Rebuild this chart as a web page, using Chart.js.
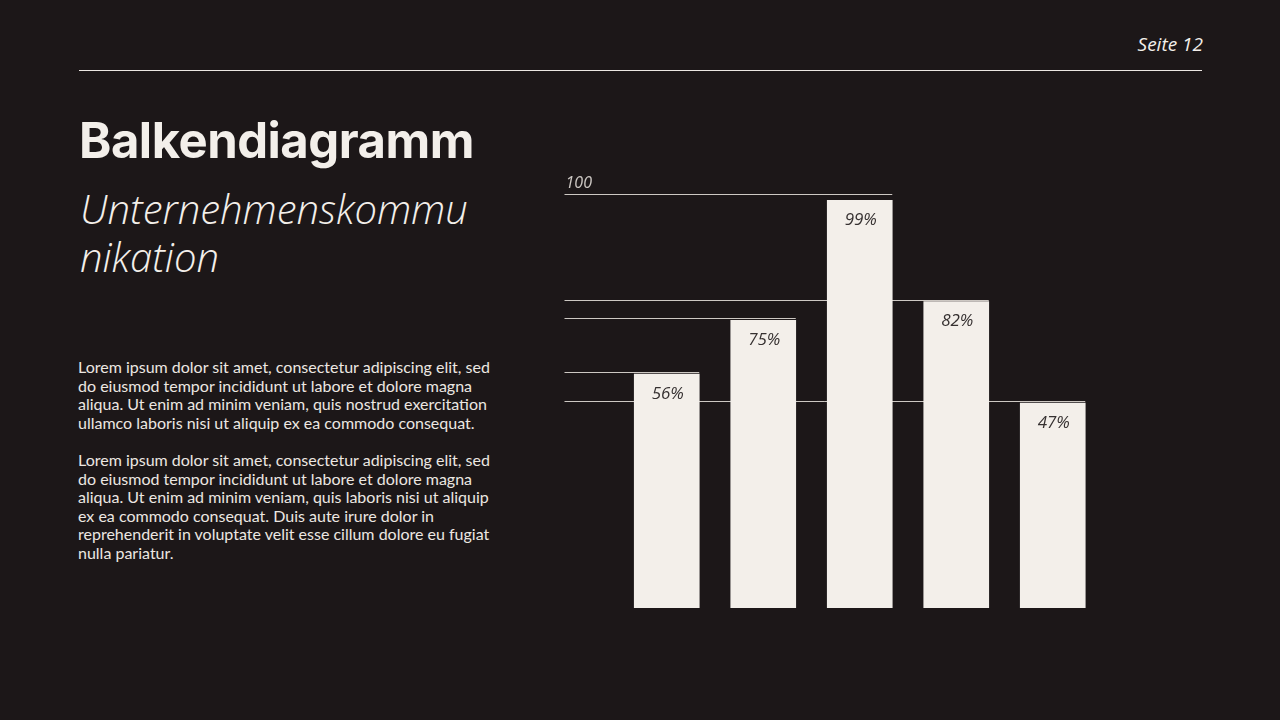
<!DOCTYPE html>
<html lang="de">
<head>
<meta charset="utf-8">
<script src="https://cdn.jsdelivr.net/npm/chart.js@4"></script>
<style>
  html, body { margin: 0; padding: 0; }
  body { width: 1280px; height: 720px; background: #1c1718; position: relative; overflow: hidden; color: #f3efea; }
  .seite { position: absolute; right: 77px; top: 31px; font: italic 400 19px "Open Sans", sans-serif; color: #f3efea; }
  .linie { position: absolute; left: 79px; top: 70px; width: 1123px; height: 0; border-top: 1.5px solid #ece7e2; }
  h1 { position: absolute; left: 79px; top: 111px; margin: 0; font: 700 49px Inter, sans-serif; letter-spacing: -0.5px; color: #f3efea; }
  h2 { position: absolute; left: 80px; top: 185px; margin: 0; font: italic 300 40px "Open Sans", sans-serif; line-height: 48px; color: #f3efea; }
  .text { position: absolute; left: 78px; top: 358px; width: 440px; font: 400 16px Lato, sans-serif; line-height: 18.6px; color: #ece7e2; }
  .text p { margin: 0 0 18.6px 0; white-space: nowrap; }
  #wrap { position: absolute; left: 540px; top: 150px; width: 600px; height: 500px; }
</style>
</head>
<body>
<div class="seite">Seite 12</div>
<div class="linie"></div>
<h1>Balkendiagramm</h1>
<h2>Unternehmenskommu<br>nikation</h2>
<div class="text">
  <p>Lorem ipsum dolor sit amet, consectetur adipiscing elit, sed<br>do eiusmod tempor incididunt ut labore et dolore magna<br>aliqua. Ut enim ad minim veniam, quis nostrud exercitation<br>ullamco laboris nisi ut aliquip ex ea commodo consequat.</p>
  <p>Lorem ipsum dolor sit amet, consectetur adipiscing elit, sed<br>do eiusmod tempor incididunt ut labore et dolore magna<br>aliqua. Ut enim ad minim veniam, quis laboris nisi ut aliquip<br>ex ea commodo consequat. Duis aute irure dolor in<br>reprehenderit in voluptate velit esse cillum dolore eu fugiat<br>nulla pariatur.</p>
</div>
<div id="wrap"><canvas id="balken"></canvas></div>
<script>
const kategorien = ["A", "B", "C", "D", "E"]
// Balkenhoehen wie im Bild gemessen (Skala 0-100)
const balkenHoehe = [56.5, 69.5, 98.5, 74, 49.5]
const beschriftung = ["56%", "75%", "99%", "82%", "47%"]
const skalaMax = 100

// Linien hinter den Balken + Beschriftungen
const linienPlugin = {
  id: "linien",
  beforeDatasetsDraw(chart) {
    const ctx = chart.ctx
    const y = chart.scales.y
    const meta = chart.getDatasetMeta(0)
    const links = chart.chartArea.left - 54
    const maxI = balkenHoehe.indexOf(Math.max(...balkenHoehe))
    ctx.save()
    ctx.lineWidth = 1
    ctx.strokeStyle = "rgba(236,231,226,0.85)"
    // 100-Linie bis zum hoechsten Balken
    const bMax = meta.data[maxI]
    const yTop = Math.round(y.getPixelForValue(skalaMax)) + 0.5
    ctx.beginPath()
    ctx.moveTo(links, yTop)
    ctx.lineTo(bMax.x + bMax.width / 2, yTop)
    ctx.stroke()
    ctx.font = "italic 400 16px 'Open Sans', sans-serif"
    ctx.fillStyle = "rgba(236,231,226,0.85)"
    ctx.textBaseline = "alphabetic"
    ctx.fillText(String(skalaMax), links + 1, yTop - 7)
    meta.data.forEach((bar, i) => {
      if (i === maxI) return
      const yy = Math.round(y.getPixelForValue(balkenHoehe[i])) - 1.5
      ctx.beginPath()
      ctx.moveTo(links, yy)
      ctx.lineTo(bar.x + bar.width / 2, yy)
      ctx.stroke()
    })
    ctx.restore()
  },
  afterDatasetsDraw(chart) {
    const ctx = chart.ctx
    const meta = chart.getDatasetMeta(0)
    ctx.save()
    ctx.font = "italic 400 17px 'Open Sans', sans-serif"
    ctx.fillStyle = "#363131"
    ctx.textAlign = "center"
    ctx.textBaseline = "middle"
    meta.data.forEach((bar, i) => {
      ctx.fillText(beschriftung[i], bar.x + 1, bar.y + 20)
    })
    ctx.restore()
  }
}

new Chart(document.getElementById("balken"), {
  type: "bar",
  data: {
    labels: kategorien,
    datasets: [{
      data: balkenHoehe,
      backgroundColor: "#f3efea",
      borderWidth: 0,
      barThickness: 65
    }]
  },
  options: {
    responsive: true,
    maintainAspectRatio: false,
    animation: false,
    layout: { padding: { left: 78.5, right: 39, top: 44, bottom: 42 } },
    plugins: { legend: { display: false }, tooltip: { enabled: false } },
    scales: {
      x: { display: false },
      y: { display: false, min: 0, max: skalaMax }
    }
  },
  plugins: [linienPlugin]
})
</script>
</body>
</html>
